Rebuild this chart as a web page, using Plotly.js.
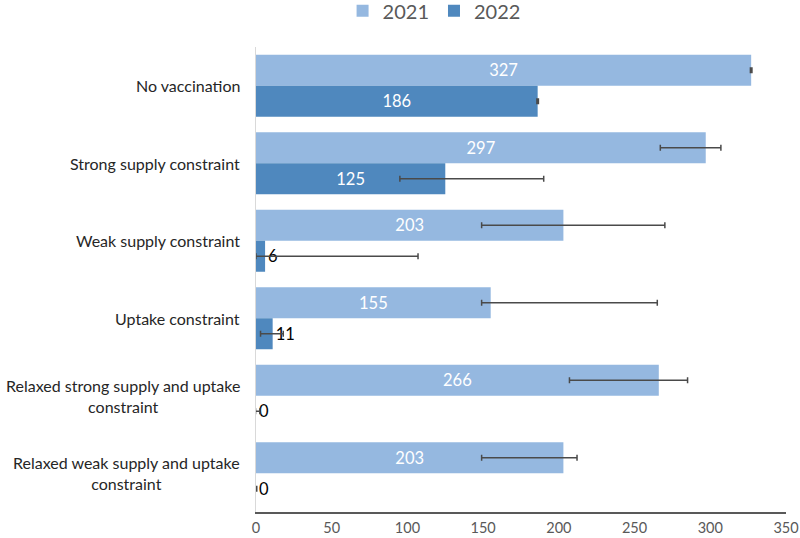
<!DOCTYPE html>
<html>
<head>
<meta charset="utf-8">
<script src="https://cdn.plot.ly/plotly-3.0.1.min.js"></script>
<style>html,body{margin:0;padding:0;background:#fff;}#chart{width:800px;height:538px;}</style>
</head>
<body>
<div id="chart"></div>
<script>
const categories = [
  "No vaccination",
  "Strong supply constraint",
  "Weak supply constraint",
  "Uptake constraint",
  "Relaxed strong supply and uptake<br>constraint",
  "Relaxed weak supply and uptake<br>constraint"
];
const values2021 = [327, 297, 203, 155, 266, 203];
const errPlus2021 = [0.5, 10, 67, 110, 19, 9];
const errMinus2021 = [0.5, 30, 54, 6, 59, 54];
const values2022 = [186, 125, 6, 11, 0, 0];
const errPlus2022 = [0.5, 65, 101, 7, 2.5, 0.5];
const errMinus2022 = [0.5, 30, 6, 8, 0.3, 0.3];
const xTicks = [0, 50, 100, 150, 200, 250, 300, 350];

const FONT = "Lato, 'Open Sans', sans-serif";
const c2021 = "#95B8E0";
const c2022 = "#4F88BE";
const errStyle = {color: "#4a4a4a", thickness: 1.5, width: 3};

function pos(vals){ return vals.map(v => v > 40 ? "inside" : "outside"); }

const yIdx = categories.map((c, i) => i);

const traces = [
  {
    type: "bar", orientation: "h", name: "2021",
    y: yIdx, x: values2021,
    marker: {color: c2021},
    text: values2021.map(String), textposition: pos(values2021),
    insidetextanchor: "middle",
    insidetextfont: {family: FONT, size: 16.5, color: "#ffffff"},
    outsidetextfont: {family: FONT, size: 16.5, color: "#000000"},
    error_x: Object.assign({type: "data", symmetric: false, array: errPlus2021, arrayminus: errMinus2021}, errStyle),
    cliponaxis: false, hoverinfo: "skip"
  },
  {
    type: "bar", orientation: "h", name: "2022",
    y: yIdx, x: values2022,
    marker: {color: c2022},
    text: values2022.map(String), textposition: pos(values2022),
    insidetextanchor: "middle",
    insidetextfont: {family: FONT, size: 16.5, color: "#ffffff"},
    outsidetextfont: {family: FONT, size: 16.5, color: "#000000"},
    error_x: Object.assign({type: "data", symmetric: false, array: errPlus2022, arrayminus: errMinus2022}, errStyle),
    cliponaxis: false, hoverinfo: "skip"
  }
];

const annotations = categories.map((c, i) => ({
  text: c, xref: "paper", x: 0, xanchor: "right", xshift: -14,
  yref: "y", y: i, yanchor: "middle", align: "center", showarrow: false,
  font: {family: FONT, size: 16, color: "#262626"}
}));

const layout = {
  width: 800, height: 538,
  margin: {l: 256, r: 14, t: 47, b: 26, autoexpand: false},
  paper_bgcolor: "#ffffff", plot_bgcolor: "#ffffff",
  barmode: "group", bargap: 0.2, bargroupgap: 0,
  font: {family: FONT, color: "#595959"},
  showlegend: true,
  legend: {
    orientation: "h", x: 0.336, xanchor: "center", xref: "paper",
    y: 1.078, yanchor: "middle", yref: "paper",
    font: {family: FONT, size: 20, color: "#595959"},
    itemwidth: 30, traceorder: "normal"
  },
  xaxis: {
    range: [0, 350], tickvals: xTicks, ticktext: xTicks.map(String),
    showgrid: false, zeroline: false,
    showline: true, linecolor: "#595959", linewidth: 1.5,
    ticks: "", ticklabelstandoff: 2,
    tickfont: {family: FONT, size: 14.5, color: "#595959"},
    fixedrange: true
  },
  yaxis: {
    range: [5.5, -0.5], tickvals: yIdx, showticklabels: false,
    showgrid: false, zeroline: false,
    showline: true, linecolor: "#d9d9d9", linewidth: 1.5,
    ticks: "", fixedrange: true
  },
  annotations: annotations
};

Plotly.newPlot("chart", traces, layout, {displayModeBar: false, staticPlot: true});
</script>
</body>
</html>
